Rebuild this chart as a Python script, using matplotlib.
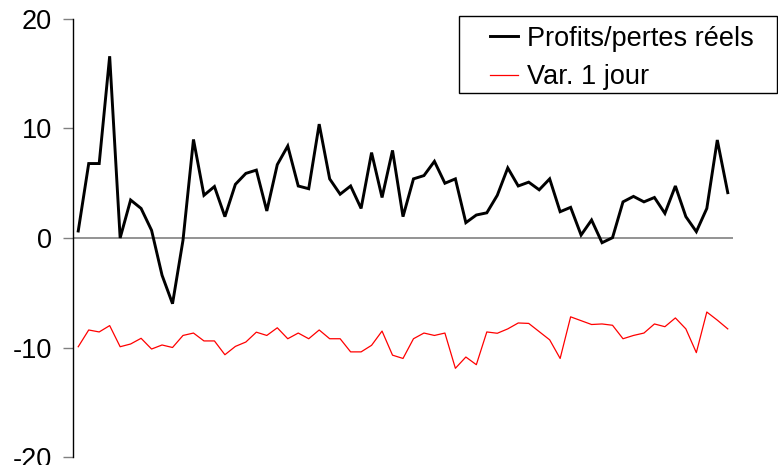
import matplotlib
matplotlib.use("Agg")
import matplotlib.pyplot as plt
from matplotlib.patches import Rectangle
import numpy as np

plt.rcParams['font.family'] = ['Liberation Sans', 'DejaVu Sans']
plt.rcParams['axes.unicode_minus'] = False

profits = [0.64, 6.8, 6.8, 16.6, 0.0, 3.47, 2.7, 0.7, -3.4, -6.0,
           -0.2, 9.0, 3.9, 4.7, 1.95, 4.9, 5.9, 6.2, 2.47, 6.7,
           8.4, 4.75, 4.5, 10.4, 5.4, 4.0, 4.75, 2.7, 7.8, 3.7,
           8.0, 1.95, 5.4, 5.7, 7.0, 5.0, 5.4, 1.4, 2.1, 2.3,
           3.9, 6.4, 4.75, 5.1, 4.4, 5.4, 2.4, 2.8, 0.27, 1.64,
           -0.43, 0.03, 3.3, 3.8, 3.3, 3.7, 2.25, 4.75, 1.95, 0.58,
           2.7, 8.95, 4.14]
var1j = [-9.93, -8.4, -8.58, -8.0, -9.93, -9.68, -9.16, -10.14, -9.77, -10.0,
         -8.9, -8.68, -9.4, -9.4, -10.66, -9.9, -9.5, -8.6, -8.9, -8.2,
         -9.2, -8.68, -9.2, -8.4, -9.2, -9.2, -10.4, -10.4, -9.8, -8.5,
         -10.7, -11.0, -9.2, -8.68, -8.9, -8.68, -11.9, -10.87, -11.57, -8.58,
         -8.7, -8.3, -7.76, -7.8, -8.55, -9.3, -11.0, -7.2, -7.55, -7.9,
         -7.85, -7.97, -9.2, -8.9, -8.68, -7.85, -8.1, -7.3, -8.3, -10.47,
         -6.76, -7.5, -8.3]
labels = ["Profits/pertes réels", "Var. 1 jour"]
yticks = [-20, -10, 0, 10, 20]

x = np.arange(len(profits))

W, H = 778, 465
fig = plt.figure(figsize=(W/100, H/100), dpi=100)
ax = fig.add_axes([73/W, 1-457/H, (733-73)/W, (457-19)/H])

ax.axhline(0, color='#808080', lw=1.2, zorder=1)
l1, = ax.plot(x, profits, color='black', lw=2.1, zorder=3, solid_joinstyle='miter')
l2, = ax.plot(x, var1j, color='#ff0000', lw=0.9, zorder=2)

ax.set_xlim(-0.5, len(profits) - 0.5)
ax.set_ylim(-20, 20)
ax.set_yticks(yticks)
ax.set_xticks([])
for s in ['top', 'right', 'bottom']:
    ax.spines[s].set_visible(False)
ax.spines['left'].set_color('black')
ax.spines['left'].set_linewidth(1.0)
ax.tick_params(axis='y', direction='out', length=7, width=1.0, color='#808080',
               labelsize=19.5, pad=8)

# legend frame (fixed box as in reference)
fig.patches.append(Rectangle((459/W, 1-93/H), (777-459)/W, (93-16)/H,
                             transform=fig.transFigure, facecolor='white',
                             edgecolor='black', lw=1.0, zorder=5))
leg = fig.legend([l1, l2], labels, loc='center left',
                 bbox_to_anchor=(490/W, 1-58/H),
                 fontsize=19.5, frameon=False,
                 handlelength=1.05, handletextpad=0.3, borderpad=0,
                 labelspacing=0.45, borderaxespad=0)
leg.set_zorder(6)

fig.savefig('out.png', dpi=100)
